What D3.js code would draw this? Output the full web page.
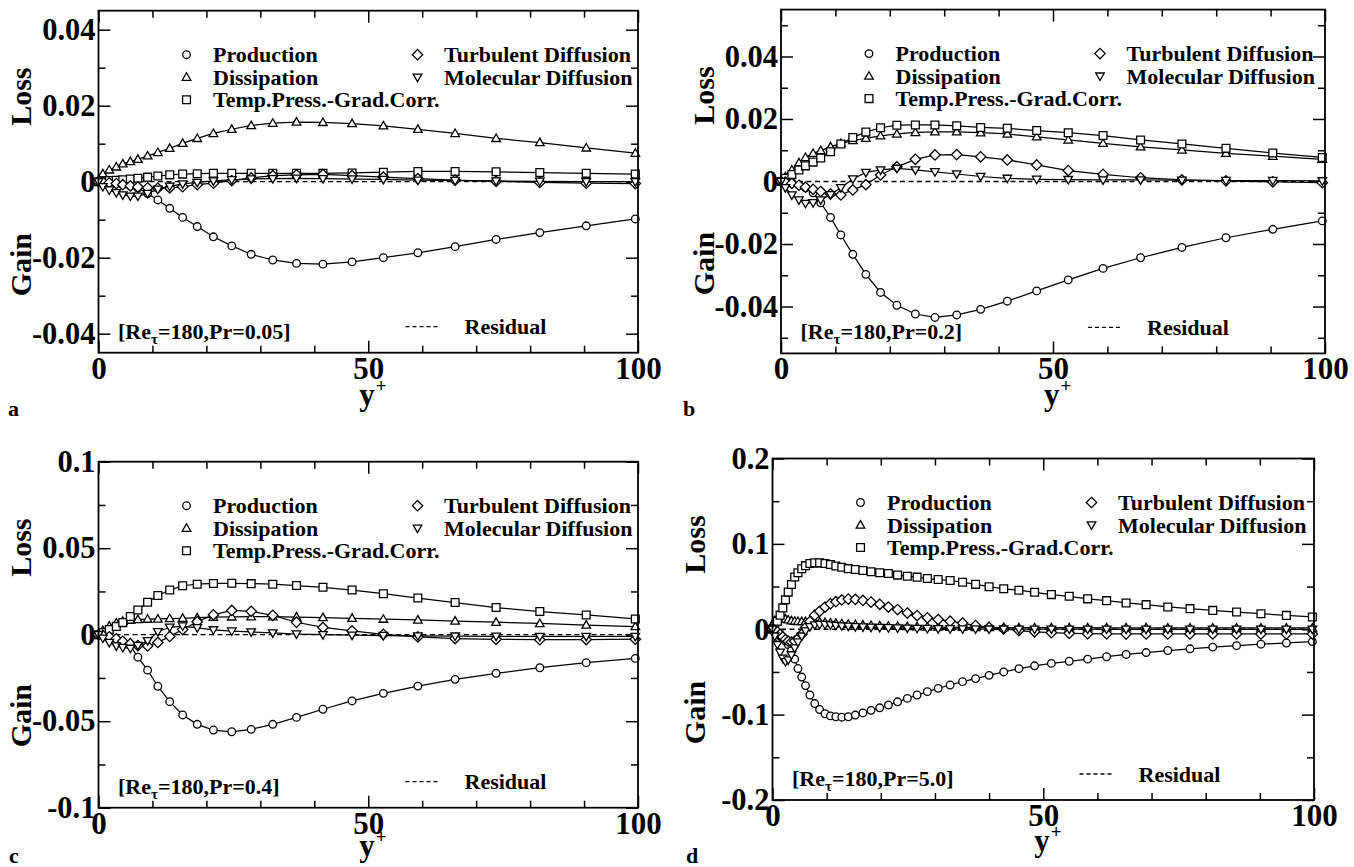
<!DOCTYPE html>
<html><head><meta charset="utf-8">
<script src="https://cdn.jsdelivr.net/npm/d3@7"></script>
<style>
html,body{margin:0;padding:0;background:#fff;}
svg{display:block;}
text{font-family:"Liberation Serif","Times New Roman",Times,serif;font-weight:bold;fill:#000;}
</style></head><body>
<svg id="chart" width="1354" height="867"></svg>
<script>
// ---------------- DATA ----------------
const xTicks = [0, 50, 100];
const xTickLabels = ["0", "50", "100"];
const xMinor = [10, 20, 30, 40, 60, 70, 80, 90];

const seriesNames = ["Production", "Dissipation", "Temp.Press.-Grad.Corr.", "Turbulent Diffusion", "Molecular Diffusion"];
const residualName = "Residual";

// wall-normal positions (y+) of the plotted points, panels a-c
const yPlusABC = [0, 0.8, 2.0, 3.3, 4.5, 5.9, 7.3, 9.1, 11.0, 13.2, 15.6, 18.3, 21.3, 24.7, 28.3, 32.3, 36.7, 41.6, 47.0, 52.8, 59.2, 66.1, 73.7, 81.8, 90.4, 99.5];

// panel a : Pr = 0.05
const yTicksA = [-0.04, -0.02, 0, 0.02, 0.04];
const yTickLabelsA = ["-0.04", "-0.02", "0", "0.02", "0.04"];
const prodA = [0, -0.0001, -0.0003, -0.0005, -0.0008, -0.0011, -0.0017, -0.0031, -0.0048, -0.0070, -0.0094, -0.0118, -0.0145, -0.0169, -0.0191, -0.0206, -0.0215, -0.0217, -0.0211, -0.0200, -0.0187, -0.0171, -0.0152, -0.0134, -0.0116, -0.0098];
const dissA = [0.0005, 0.0021, 0.0031, 0.0039, 0.0047, 0.0053, 0.0059, 0.0068, 0.0077, 0.0088, 0.0101, 0.0114, 0.0127, 0.0138, 0.0148, 0.0154, 0.0157, 0.0156, 0.0153, 0.0147, 0.0138, 0.0127, 0.0114, 0.0103, 0.0089, 0.0075];
const tpgcA = [0, 0.0002, 0.0003, 0.0004, 0.0005, 0.0007, 0.0009, 0.0012, 0.0015, 0.0018, 0.0020, 0.0021, 0.0022, 0.0022, 0.0022, 0.0022, 0.0022, 0.0022, 0.0023, 0.0025, 0.0027, 0.0027, 0.0026, 0.0024, 0.0022, 0.0020];
const turbA = [0, -0.0001, -0.0003, -0.0005, -0.0008, -0.0011, -0.0014, -0.0016, -0.0017, -0.0016, -0.0013, -0.0008, -0.0004, 0.0003, 0.0010, 0.0016, 0.0018, 0.0019, 0.0016, 0.0012, 0.0008, 0.0004, 0.0001, -0.0002, -0.0004, -0.0005];
const molA = [0, -0.0013, -0.0022, -0.0029, -0.0035, -0.0038, -0.0038, -0.0031, -0.0020, -0.0012, -0.0006, -0.0002, 0.0002, 0.0005, 0.0007, 0.0008, 0.0009, 0.0008, 0.0007, 0.0006, 0.0004, 0.0003, 0.0002, 0.0001, 0.0000, 0.0000];
const resA = [0, 0, 0, 0, 0, 0, 0, 0, 0, 0, 0, 0, 0, 0, 0, 0, 0, 0, 0, 0, 0, 0, 0, 0, 0, 0];

// panel b : Pr = 0.2
const yTicksB = [-0.04, -0.02, 0, 0.02, 0.04];
const yTickLabelsB = ["-0.04", "-0.02", "0", "0.02", "0.04"];
const prodB = [0, 0.0002, -0.0004, -0.0012, -0.0020, -0.0036, -0.0068, -0.0115, -0.0171, -0.0233, -0.0297, -0.0355, -0.0396, -0.0424, -0.0435, -0.0427, -0.0409, -0.0383, -0.0350, -0.0315, -0.0278, -0.0244, -0.0211, -0.0180, -0.0153, -0.0126];
const dissB = [0.0003, 0.0015, 0.0037, 0.0060, 0.0077, 0.0090, 0.0099, 0.0111, 0.0122, 0.0131, 0.0138, 0.0146, 0.0152, 0.0157, 0.0159, 0.0159, 0.0156, 0.0152, 0.0143, 0.0133, 0.0122, 0.0111, 0.0101, 0.0090, 0.0081, 0.0071];
const tpgcB = [0, 0.0010, 0.0022, 0.0037, 0.0050, 0.0062, 0.0075, 0.0095, 0.0120, 0.0141, 0.0158, 0.0172, 0.0180, 0.0181, 0.0181, 0.0178, 0.0173, 0.0170, 0.0163, 0.0156, 0.0147, 0.0133, 0.0120, 0.0106, 0.0091, 0.0077];
const turbB = [0, -0.0002, -0.0006, -0.0012, -0.0018, -0.0025, -0.0032, -0.0040, -0.0043, -0.0027, -0.0010, 0.0021, 0.0047, 0.0071, 0.0085, 0.0086, 0.0079, 0.0069, 0.0053, 0.0035, 0.0023, 0.0012, 0.0005, 0.0002, -0.0001, -0.0004];
const molB = [0, -0.0020, -0.0043, -0.0059, -0.0070, -0.0068, -0.0059, -0.0042, -0.0020, 0.0008, 0.0029, 0.0037, 0.0042, 0.0037, 0.0031, 0.0024, 0.0016, 0.0010, 0.0007, 0.0006, 0.0005, 0.0005, 0.0004, 0.0003, 0.0003, 0.0002];
const resB = [0, 0, 0, 0, 0, 0, 0, 0, 0, 0, 0, 0, 0, 0, 0, 0, 0, 0, 0, 0, 0, 0, 0, 0, 0, 0];

// panel c : Pr = 0.4
const yTicksC = [-0.1, -0.05, 0, 0.05, 0.1];
const yTickLabelsC = ["-0.1", "-0.05", "0", "0.05", "0.1"];
const prodC = [0, -0.0003, -0.0012, -0.0025, -0.0040, -0.0062, -0.0130, -0.0205, -0.0298, -0.0387, -0.0464, -0.0518, -0.0551, -0.0561, -0.0547, -0.0518, -0.0478, -0.0431, -0.0383, -0.0339, -0.0297, -0.0258, -0.0223, -0.0191, -0.0162, -0.0137];
const dissC = [0, 0.0025, 0.0050, 0.0068, 0.0078, 0.0084, 0.0088, 0.0090, 0.0091, 0.0093, 0.0095, 0.0098, 0.0101, 0.0103, 0.0104, 0.0104, 0.0102, 0.0099, 0.0095, 0.0090, 0.0085, 0.0079, 0.0072, 0.0065, 0.0056, 0.0047];
const tpgcC = [0, 0.0012, 0.0030, 0.0048, 0.0070, 0.0105, 0.0143, 0.0188, 0.0227, 0.0258, 0.0283, 0.0292, 0.0296, 0.0297, 0.0295, 0.0292, 0.0284, 0.0274, 0.0258, 0.0237, 0.0212, 0.0186, 0.0157, 0.0134, 0.0114, 0.0091];
const turbC = [0, -0.0004, -0.0012, -0.0024, -0.0038, -0.0052, -0.0063, -0.0065, -0.0045, -0.0010, 0.0030, 0.0075, 0.0115, 0.0140, 0.0135, 0.0112, 0.0072, 0.0042, 0.0022, 0.0002, -0.0013, -0.0022, -0.0027, -0.0029, -0.0028, -0.0026];
const molC = [0, -0.0020, -0.0045, -0.0065, -0.0074, -0.0079, -0.0062, -0.0035, 0.0017, 0.0043, 0.0050, 0.0040, 0.0028, 0.0021, 0.0016, 0.0010, 0.0004, 0.0000, -0.0003, -0.0005, -0.0007, -0.0008, -0.0009, -0.0010, -0.0010, -0.0010];
const resC = [0, 0, 0, 0, 0, 0, 0, 0, 0, 0, 0, 0, 0, 0, 0, 0, 0, 0, 0, 0, 0, 0, 0, 0, 0, 0];

// panel d : Pr = 5.0 (finer set of points)
const yPlusD = [0, 0.4, 0.9, 1.4, 1.9, 2.4, 2.9, 3.5, 4.1, 4.7, 5.4, 6.1, 6.9, 7.8, 8.7, 9.7, 10.7, 11.7, 12.8, 14.0, 15.3, 16.7, 18.2, 19.8, 21.4, 23.1, 24.9, 26.7, 28.6, 30.6, 32.8, 35.1, 37.5, 40.0, 42.7, 45.5, 48.4, 51.5, 54.8, 58.2, 61.7, 65.3, 69.0, 73.0, 77.1, 81.3, 85.7, 90.2, 94.9, 99.7];
const yTicksD = [-0.2, -0.1, 0, 0.1, 0.2];
const yTickLabelsD = ["-0.2", "-0.1", "0", "0.1", "0.2"];
const prodD = [0, -0.002, -0.005, -0.008, -0.011, -0.014, -0.018, -0.025, -0.035, -0.046, -0.056, -0.066, -0.077, -0.087, -0.094, -0.099, -0.1015, -0.1025, -0.103, -0.1025, -0.1005, -0.098, -0.095, -0.092, -0.0888, -0.085, -0.081, -0.077, -0.0731, -0.0692, -0.0653, -0.0614, -0.0578, -0.054, -0.050, -0.0462, -0.0428, -0.040, -0.0375, -0.035, -0.0322, -0.0295, -0.0273, -0.0249, -0.0229, -0.0209, -0.0192, -0.0175, -0.0161, -0.0144];
const dissD = [0.006, 0.010, 0.012, 0.013, 0.0125, 0.012, 0.011, 0.010, 0.0095, 0.0092, 0.0090, 0.0090, 0.0090, 0.0088, 0.0085, 0.0080, 0.0075, 0.0070, 0.0065, 0.0060, 0.0055, 0.0050, 0.0045, 0.0041, 0.0037, 0.0034, 0.0031, 0.0029, 0.0027, 0.0025, 0.0023, 0.0022, 0.0021, 0.0020, 0.0020, 0.0019, 0.0019, 0.0018, 0.0018, 0.0018, 0.0017, 0.0017, 0.0017, 0.0016, 0.0016, 0.0016, 0.0015, 0.0015, 0.0015, 0.0015];
const tpgcD = [0, 0.0035, 0.0095, 0.0165, 0.025, 0.0345, 0.0435, 0.0525, 0.0612, 0.0662, 0.0708, 0.0745, 0.0770, 0.0778, 0.0778, 0.0771, 0.0759, 0.0740, 0.0727, 0.0710, 0.0700, 0.0688, 0.0674, 0.0662, 0.0653, 0.0634, 0.0621, 0.0610, 0.0594, 0.0582, 0.0571, 0.0551, 0.0526, 0.0498, 0.0474, 0.0457, 0.0433, 0.0406, 0.0386, 0.0356, 0.0335, 0.0308, 0.0288, 0.0261, 0.0241, 0.0221, 0.0202, 0.0182, 0.0162, 0.0144];
const turbD = [0, -0.001, -0.003, -0.006, -0.009, -0.012, -0.014, -0.015, -0.014, -0.011, -0.006, 0.002, 0.009, 0.0165, 0.021, 0.026, 0.030, 0.0323, 0.0343, 0.0353, 0.0350, 0.0338, 0.0318, 0.0292, 0.0260, 0.0230, 0.0190, 0.0160, 0.0134, 0.0114, 0.0094, 0.0073, 0.0043, 0.0022, 0.0003, -0.0015, -0.0030, -0.0040, -0.0048, -0.0052, -0.0054, -0.0055, -0.0055, -0.0055, -0.0055, -0.0055, -0.0055, -0.0055, -0.0055, -0.0055];
const molD = [0, -0.008, -0.018, -0.027, -0.034, -0.038, -0.036, -0.030, -0.022, -0.015, -0.008, -0.002, 0.003, 0.005, 0.0055, 0.0055, 0.005, 0.0045, 0.004, 0.0035, 0.003, 0.0027, 0.0023, 0.002, 0.0017, 0.0015, 0.0012, 0.001, 0.0008, 0.0006, 0.0005, 0.0004, 0.0003, 0.0002, 0.0002, 0.0001, 0.0001, 0.0001, 0.0001, 0.0001, 0, 0, 0, 0, 0, 0, 0, 0, 0, 0];
const resD = [0, 0, 0, 0, 0, 0, 0, 0, 0, 0, 0, 0, 0, 0, 0, 0, 0, 0, 0, 0, 0, 0, 0, 0, 0, 0, 0, 0, 0, 0, 0, 0, 0, 0, 0, 0, 0, 0, 0, 0, 0, 0, 0, 0, 0, 0, 0, 0, 0, 0];

const prandtl = ["0.05", "0.2", "0.4", "5.0"];
const panelLetters = ["a", "b", "c", "d"];

// ---------------- LAYOUT / STYLE ----------------
const panels = [
  {letter: panelLetters[0], pr: prandtl[0], left: 98.5, right: 638, top: 10.7, bottom: 352.7, domain: [-0.045, 0.045], ticks: yTicksA, labels: yTickLabelsA, minorStep: 0.01,
   xs: yPlusABC, data: [prodA, dissA, tpgcA, turbA, molA], res: resA, letterPos: [8, 416], titleDy: 52},
  {letter: panelLetters[1], pr: prandtl[1], left: 781, right: 1325, top: 9.6, bottom: 353.4, domain: [-0.055, 0.055], ticks: yTicksB, labels: yTickLabelsB, minorStep: 0.01,
   xs: yPlusABC, data: [prodB, dissB, tpgcB, turbB, molB], res: resB, letterPos: [683, 416], titleDy: 52},
  {letter: panelLetters[2], pr: prandtl[2], left: 98.5, right: 638, top: 461.7, bottom: 807.7, domain: [-0.1, 0.1], ticks: yTicksC, labels: yTickLabelsC, minorStep: 0.025,
   xs: yPlusABC, data: [prodC, dissC, tpgcC, turbC, molC], res: resC, letterPos: [9, 863], titleDy: 48},
  {letter: panelLetters[3], pr: prandtl[3], left: 772.5, right: 1314, top: 458.5, bottom: 800, domain: [-0.2, 0.2], ticks: yTicksD, labels: yTickLabelsD, minorStep: 0.05,
   xs: yPlusD, data: [prodD, dissD, tpgcD, turbD, molD], res: resD, letterPos: [686, 863], titleDy: 51}
];

const markerTypes = ["circle", "triangle", "square", "diamond", "triangleDown"];
function markerPath(type) {
  switch (type) {
    case "circle": { const r = 3.8; return `M${r},0A${r},${r} 0 1,1 ${-r},0A${r},${r} 0 1,1 ${r},0Z`; }
    case "square": { const h = 3.9; return `M${-h},${-h}H${h}V${h}H${-h}Z`; }
    case "triangle": return "M0,-4.4L4.3,3.1L-4.3,3.1Z";
    case "triangleDown": return "M0,4.4L4.3,-3.1L-4.3,-3.1Z";
    case "diamond": { const d = 5.2; return `M0,${-d}L${d},0L0,${d}L${-d},0Z`; }
  }
}

const svg = d3.select("#chart");

panels.forEach(p => {
  const g = svg.append("g");
  const x = d3.scaleLinear().domain([0, 100]).range([p.left, p.right]);
  const y = d3.scaleLinear().domain(p.domain).range([p.bottom, p.top]);
  const yMinor = d3.range(Math.ceil(p.domain[0] / p.minorStep - 1e-9), Math.floor(p.domain[1] / p.minorStep + 1e-9) + 1)
    .map(k => +(k * p.minorStep).toFixed(4))
    .filter(v => !p.ticks.some(t => Math.abs(t - v) < 1e-9));

  const MAJ = 12, MIN = 7;
  function styleAxis(sel) {
    sel.select(".domain").remove();
    sel.selectAll(".tick line").attr("stroke", "#000").attr("stroke-width", 1.5);
  }
  // left
  g.append("g").attr("transform", `translate(${p.left},0)`)
    .call(d3.axisLeft(y).tickValues(p.ticks).tickFormat((d, i) => p.labels[i]).tickSizeInner(-MAJ).tickSizeOuter(0).tickPadding(3))
    .call(styleAxis)
    .call(s => s.selectAll("text").style("font-size", "30.5px").attr("fill", "#000"));
  g.append("g").attr("transform", `translate(${p.left},0)`)
    .call(d3.axisLeft(y).tickValues(yMinor).tickFormat("").tickSizeInner(-MIN).tickSizeOuter(0)).call(styleAxis);
  // right
  g.append("g").attr("transform", `translate(${p.right},0)`)
    .call(d3.axisRight(y).tickValues(p.ticks).tickFormat("").tickSizeInner(-MAJ).tickSizeOuter(0)).call(styleAxis);
  g.append("g").attr("transform", `translate(${p.right},0)`)
    .call(d3.axisRight(y).tickValues(yMinor).tickFormat("").tickSizeInner(-MIN).tickSizeOuter(0)).call(styleAxis);
  // bottom
  g.append("g").attr("transform", `translate(0,${p.bottom})`)
    .call(d3.axisBottom(x).tickValues(xTicks).tickFormat((d, i) => xTickLabels[i]).tickSizeInner(-MAJ).tickSizeOuter(0).tickPadding(4))
    .call(styleAxis)
    .call(s => s.selectAll("text").style("font-size", "31px").attr("fill", "#000"));
  g.append("g").attr("transform", `translate(0,${p.bottom})`)
    .call(d3.axisBottom(x).tickValues(xMinor).tickFormat("").tickSizeInner(-MIN).tickSizeOuter(0)).call(styleAxis);
  // top
  g.append("g").attr("transform", `translate(0,${p.top})`)
    .call(d3.axisTop(x).tickValues(xTicks).tickFormat("").tickSizeInner(-MAJ).tickSizeOuter(0)).call(styleAxis);
  g.append("g").attr("transform", `translate(0,${p.top})`)
    .call(d3.axisTop(x).tickValues(xMinor).tickFormat("").tickSizeInner(-MIN).tickSizeOuter(0)).call(styleAxis);

  // residual (dashed)
  const line = d3.line().x((d, i) => x(p.xs[i])).y(d => y(d));
  g.append("path").datum(p.res).attr("d", line).attr("fill", "none")
    .attr("stroke", "#000").attr("stroke-width", 1.3).attr("stroke-dasharray", "5,3.5");

  // series
  p.data.forEach((vals, si) => {
    g.append("path").datum(vals).attr("d", line).attr("fill", "none")
      .attr("stroke", "#000").attr("stroke-width", 1.25);
    g.append("g").selectAll("path").data(vals).join("path")
      .attr("d", markerPath(markerTypes[si]))
      .attr("transform", (d, i) => `translate(${x(p.xs[i])},${y(d)})`)
      .attr("fill", "#fff").attr("stroke", "#000").attr("stroke-width", 1.3);
  });

  // frame
  g.append("rect").attr("x", p.left).attr("y", p.top)
    .attr("width", p.right - p.left).attr("height", p.bottom - p.top)
    .attr("fill", "none").attr("stroke", "#000").attr("stroke-width", 1.8);

  // legend
  const L = g.append("g").attr("transform", `translate(${p.left},${p.top})`);
  const legendPos = [[88, 44], [88, 66.5], [88, 89], [319, 44], [319, 66.5]];
  seriesNames.forEach((name, si) => {
    const [lx, ly] = legendPos[si];
    L.append("path").attr("d", markerPath(markerTypes[si]))
      .attr("transform", `translate(${lx},${ly})`)
      .attr("fill", "#fff").attr("stroke", "#000").attr("stroke-width", 1.3);
    L.append("text").attr("x", lx + 26.5).attr("y", ly + 7.8)
      .style("font-size", "22px").text(name);
  });
  const h = p.bottom - p.top;
  L.append("line").attr("x1", 307).attr("x2", 340).attr("y1", h - 26).attr("y2", h - 26)
    .attr("stroke", "#000").attr("stroke-width", 1.3).attr("stroke-dasharray", "4,3");
  L.append("text").attr("x", 366).attr("y", h - 18.5).style("font-size", "22px").text(residualName);

  // case label
  const cl = L.append("text").attr("x", 19.5).attr("y", h - 14).style("font-size", "22px");
  cl.append("tspan").text("[Re");
  cl.append("tspan").attr("dy", 5).style("font-size", "15px").text("τ");
  cl.append("tspan").attr("dy", -5).text(`=180,Pr=${p.pr}]`);

  // axis titles
  const cx = (p.left + p.right) / 2;
  const yt = g.append("text").attr("x", cx - 9).attr("y", p.bottom + p.titleDy).style("font-size", "31px");
  yt.append("tspan").text("y");
  yt.append("tspan").attr("dy", -13).attr("dx", 1).style("font-size", "19px").text("+");

  const tx = p.left - 78;
  g.append("text").attr("transform", `translate(${tx},${p.top + 86}) rotate(-90)`)
    .attr("text-anchor", "middle").attr("dominant-baseline", "central").style("font-size", "30px").text("Loss");
  g.append("text").attr("transform", `translate(${tx},${p.top + 254}) rotate(-90)`)
    .attr("text-anchor", "middle").attr("dominant-baseline", "central").style("font-size", "30px").text("Gain");

  // panel letter
  g.append("text").attr("x", p.letterPos[0]).attr("y", p.letterPos[1]).style("font-size", "22px").text(p.letter);
});
</script>
</body></html>
